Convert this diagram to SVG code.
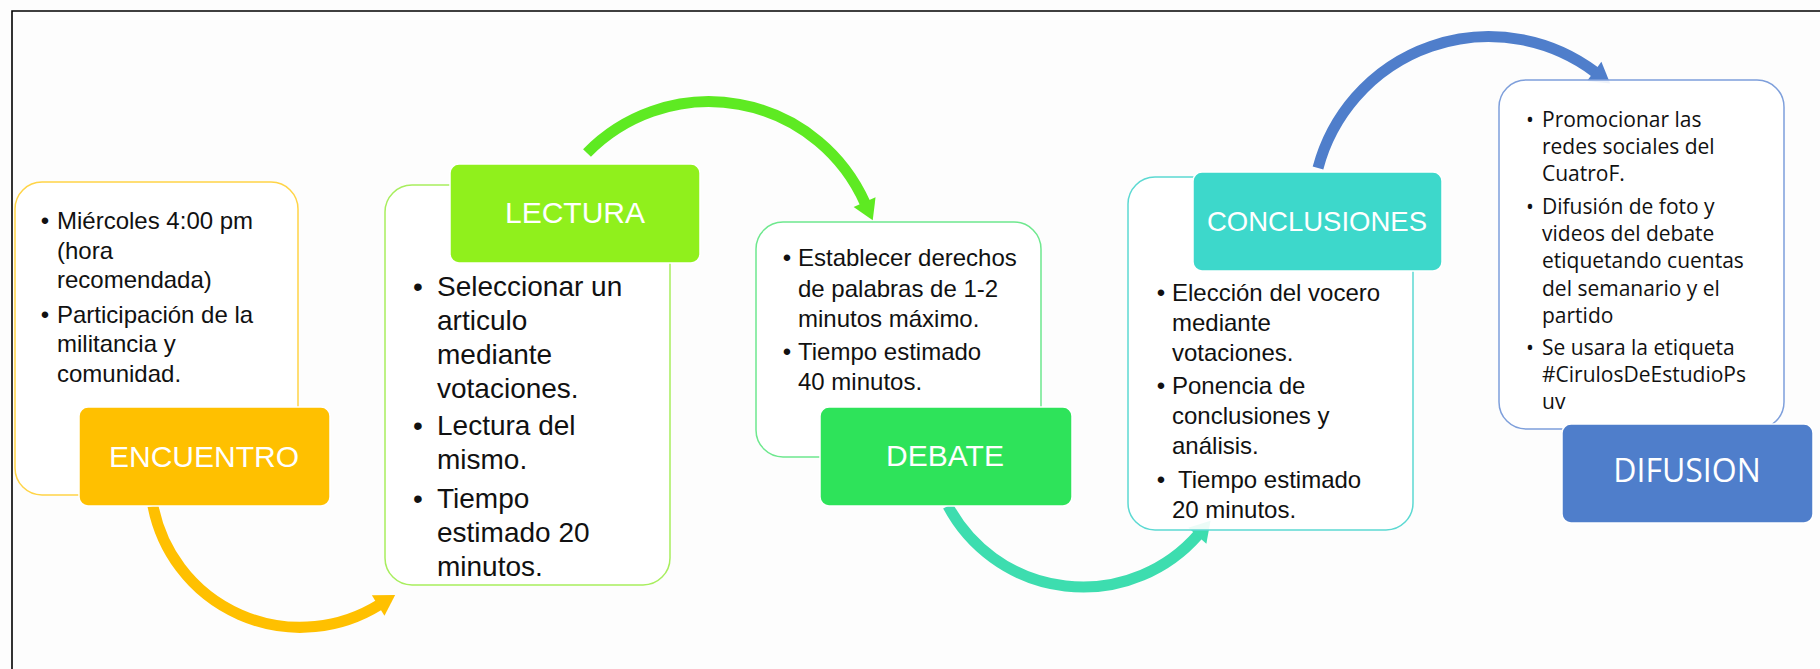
<svg xmlns="http://www.w3.org/2000/svg" width="1820" height="669" viewBox="0 0 1820 669">
<style>
.body{font-family:"Liberation Sans",Arial,sans-serif;font-size:24px;fill:#111}
.lec{font-size:28px}
.dif{font-family:"Open Sans","Liberation Sans",sans-serif;font-size:21px;fill:#111}
.lbl{font-family:"Liberation Sans",Arial,sans-serif;font-size:30px;fill:#fff;text-anchor:middle}
.lbl2{font-family:"Open Sans","Liberation Sans",sans-serif;font-size:32px;fill:#fff;text-anchor:middle}
.tb{fill:#fff;fill-opacity:0.9;stroke-width:1.5}
.lb{stroke:#fff;stroke-width:1.5}
.arr{fill:none;stroke-width:11}
.bul{text-anchor:middle}
</style>
<defs>
<marker id="mY" markerUnits="userSpaceOnUse" markerWidth="30" markerHeight="30" viewBox="-2 -15 25 30" refX="0" refY="0" orient="auto"><path d="M-1,-12 L19,0 L-1,12 Z" fill="#FFC000"/></marker>
<marker id="mG" markerUnits="userSpaceOnUse" markerWidth="30" markerHeight="30" viewBox="-2 -15 25 30" refX="0" refY="0" orient="auto"><path d="M-1,-12 L19,0 L-1,12 Z" fill="#5EEA22"/></marker>
<marker id="mT" markerUnits="userSpaceOnUse" markerWidth="30" markerHeight="30" viewBox="-2 -15 25 30" refX="0" refY="0" orient="auto"><path d="M-1,-12 L19,0 L-1,12 Z" fill="#3DDDAF"/></marker>
<marker id="mB" markerUnits="userSpaceOnUse" markerWidth="30" markerHeight="30" viewBox="-2 -15 25 30" refX="0" refY="0" orient="auto"><path d="M-1,-12 L19,0 L-1,12 Z" fill="#4F7ECB"/></marker>
</defs>
<rect x="0" y="0" width="1820" height="669" fill="#fdfdfd"/>
<path d="M12,669 V11 H1820" fill="none" stroke="#000" stroke-width="1.6"/>

<g id="connectors">
<path class="arr" stroke="#FFC000" d="M153,506 A150,150 0 0 0 379,605" marker-end="url(#mY)"/>
<path class="arr" stroke="#5EEA22" d="M587,153 A170.7,170.7 0 0 1 865,203" marker-end="url(#mG)"/>
<path class="arr" stroke="#3DDDAF" d="M948,506 A153,153 0 0 0 1198,535" marker-end="url(#mT)"/>
<path class="arr" stroke="#4F7ECB" d="M1318,168 A176.8,176.8 0 0 1 1595,72" marker-end="url(#mB)"/>
</g>

<g id="encuentro">
<rect class="tb" x="15" y="182" width="283" height="313" rx="27" stroke="#FFD447"/>
<text class="body bul" x="45" y="229">•</text>
<text class="body" x="57" y="229">Miércoles 4:00 pm</text>
<text class="body" x="57" y="259">(hora</text>
<text class="body" x="57" y="288">recomendada)</text>
<text class="body bul" x="45" y="323">•</text>
<text class="body" x="57" y="323">Participación de la</text>
<text class="body" x="57" y="352">militancia y</text>
<text class="body" x="57" y="382">comunidad.</text>
<rect class="lb" x="79" y="407" width="251" height="99" rx="9" fill="#FFC000"/>
<text class="lbl" x="204" y="467">ENCUENTRO</text>
</g>

<g id="lectura">
<rect class="tb" x="385" y="185" width="285" height="400" rx="27" stroke="#A8EE5E"/>
<text class="body lec bul" x="418" y="296">•</text>
<text class="body lec" x="437" y="296">Seleccionar un</text>
<text class="body lec" x="437" y="330">articulo</text>
<text class="body lec" x="437" y="364">mediante</text>
<text class="body lec" x="437" y="398">votaciones.</text>
<text class="body lec bul" x="418" y="435">•</text>
<text class="body lec" x="437" y="435">Lectura del</text>
<text class="body lec" x="437" y="469">mismo.</text>
<text class="body lec bul" x="418" y="508">•</text>
<text class="body lec" x="437" y="508">Tiempo</text>
<text class="body lec" x="437" y="542">estimado 20</text>
<text class="body lec" x="437" y="576">minutos.</text>
<rect class="lb" x="450" y="164" width="250" height="99" rx="9" fill="#90F01C"/>
<text class="lbl" x="575" y="223">LECTURA</text>
</g>

<g id="debate">
<rect class="tb" x="756" y="222" width="285" height="235" rx="27" stroke="#6EE88E"/>
<text class="body bul" x="787" y="266">•</text>
<text class="body" x="798" y="266">Establecer derechos</text>
<text class="body" x="798" y="297">de palabras de 1-2</text>
<text class="body" x="798" y="327">minutos máximo.</text>
<text class="body bul" x="787" y="360">•</text>
<text class="body" x="798" y="360">Tiempo estimado</text>
<text class="body" x="798" y="390">40 minutos.</text>
<rect class="lb" x="820" y="407" width="252" height="99" rx="9" fill="#2EE35A"/>
<text class="lbl" x="945" y="466">DEBATE</text>
</g>

<g id="conclusiones">
<rect class="tb" x="1128" y="177" width="285" height="353" rx="27" stroke="#5CD9D2"/>
<text class="body bul" x="1161" y="301">•</text>
<text class="body" x="1172" y="301">Elección del vocero</text>
<text class="body" x="1172" y="331">mediante</text>
<text class="body" x="1172" y="361">votaciones.</text>
<text class="body bul" x="1161" y="394">•</text>
<text class="body" x="1172" y="394">Ponencia de</text>
<text class="body" x="1172" y="424">conclusiones y</text>
<text class="body" x="1172" y="454">análisis.</text>
<text class="body bul" x="1161" y="488">•</text>
<text class="body" x="1178" y="488">Tiempo estimado</text>
<text class="body" x="1172" y="518">20 minutos.</text>
<rect class="lb" x="1193" y="172" width="249" height="99" rx="9" fill="#3DD8CB"/>
<text class="lbl" x="1317" y="231" style="font-size:27.5px">CONCLUSIONES</text>
</g>

<g id="difusion">
<rect class="tb" x="1499" y="80" width="285" height="349" rx="27" stroke="#7E9FDB"/>
<text class="dif bul" x="1530" y="127">•</text>
<text class="dif" x="1542" y="127">Promocionar las</text>
<text class="dif" x="1542" y="154">redes sociales del</text>
<text class="dif" x="1542" y="181">CuatroF.</text>
<text class="dif bul" x="1530" y="214">•</text>
<text class="dif" x="1542" y="214">Difusión de foto y</text>
<text class="dif" x="1542" y="241">videos del debate</text>
<text class="dif" x="1542" y="268">etiquetando cuentas</text>
<text class="dif" x="1542" y="296">del semanario y el</text>
<text class="dif" x="1542" y="323">partido</text>
<text class="dif bul" x="1530" y="355">•</text>
<text class="dif" x="1542" y="355">Se usara la etiqueta</text>
<text class="dif" x="1542" y="382">#CirulosDeEstudioPs</text>
<text class="dif" x="1542" y="409">uv</text>
<rect class="lb" x="1562" y="424" width="251" height="99" rx="9" fill="#4F7ECB"/>
<text class="lbl2" x="1687" y="482">DIFUSION</text>
</g>
</svg>
